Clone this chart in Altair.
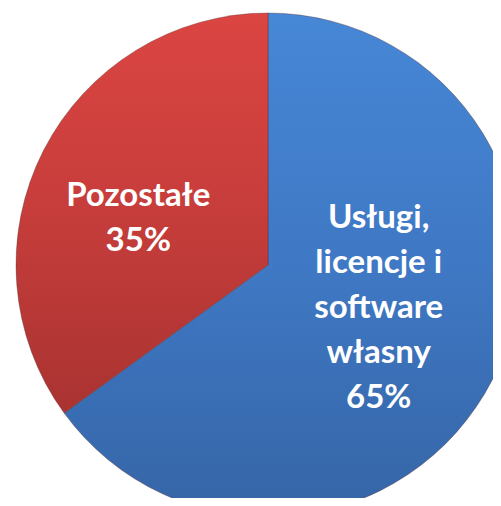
import altair as alt
import pandas as pd

categories = ["Usługi, licencje i software własny", "Pozostałe"]
values = [65, 35]
label_lines = [["Usługi,", "licencje i", "software", "własny", "65%"], ["Pozostałe", "35%"]]

df = pd.DataFrame({"cat": categories, "value": values, "order": [0, 1],
                   "label": ["\n".join(l) for l in label_lines]})

base = alt.Chart(df).transform_stack(
    stack="value", groupby=[], as_=["start", "end"], sort=[alt.SortField("order")]
).transform_calculate(mid="(datum.start + datum.end) / 2")

theta_scale = alt.Scale(domain=[0, 100], range=[0, 6.283185307179586])

cx, cy, R = 260, 257, 252

grads = {
    categories[0]: alt.Gradient(gradient="linear", x1=0, y1=0, x2=0, y2=1,
                                stops=[alt.GradientStop(color="#4687d6", offset=0),
                                       alt.GradientStop(color="#3f78c4", offset=0.5),
                                       alt.GradientStop(color="#3565a6", offset=1)]),
    categories[1]: alt.Gradient(gradient="linear", x1=0, y1=0, x2=0, y2=1,
                                stops=[alt.GradientStop(color="#db4542", offset=0),
                                       alt.GradientStop(color="#c63d3b", offset=0.5),
                                       alt.GradientStop(color="#a93331", offset=1)]),
}

layers = []
for c in categories:
    layers.append(
        base.transform_filter(alt.datum.cat == c).mark_arc(
            color=grads[c], stroke="#5a2a2a", strokeWidth=0.6, strokeOpacity=0.6, radius=R
        ).encode(
            theta=alt.Theta("start:Q", scale=theta_scale),
            theta2="end:Q",
            x=alt.value(cx), y=alt.value(cy),
        )
    )

offsets = {categories[0]: (2, -102, 122), categories[1]: (-5, -5, 140)}
for c in categories:
    dx, dy, r = offsets[c]
    layers.append(
        base.transform_filter(alt.datum.cat == c).mark_text(
            color="white", font="Lato", fontWeight="bold", fontSize=33,
            lineBreak="\n", lineHeight=45, align="center", baseline="middle",
            radius=r, dx=dx, dy=dy
        ).encode(
            theta=alt.Theta("mid:Q", scale=theta_scale),
            text="label:N",
            x=alt.value(cx), y=alt.value(cy),
        )
    )

chart = alt.layer(*layers).properties(
    width=485, height=490, autosize=alt.AutoSizeParams(type="none"), padding=0
).configure_view(stroke=None)

chart.save("out.html", embed_options={"renderer": "svg", "actions": False})
